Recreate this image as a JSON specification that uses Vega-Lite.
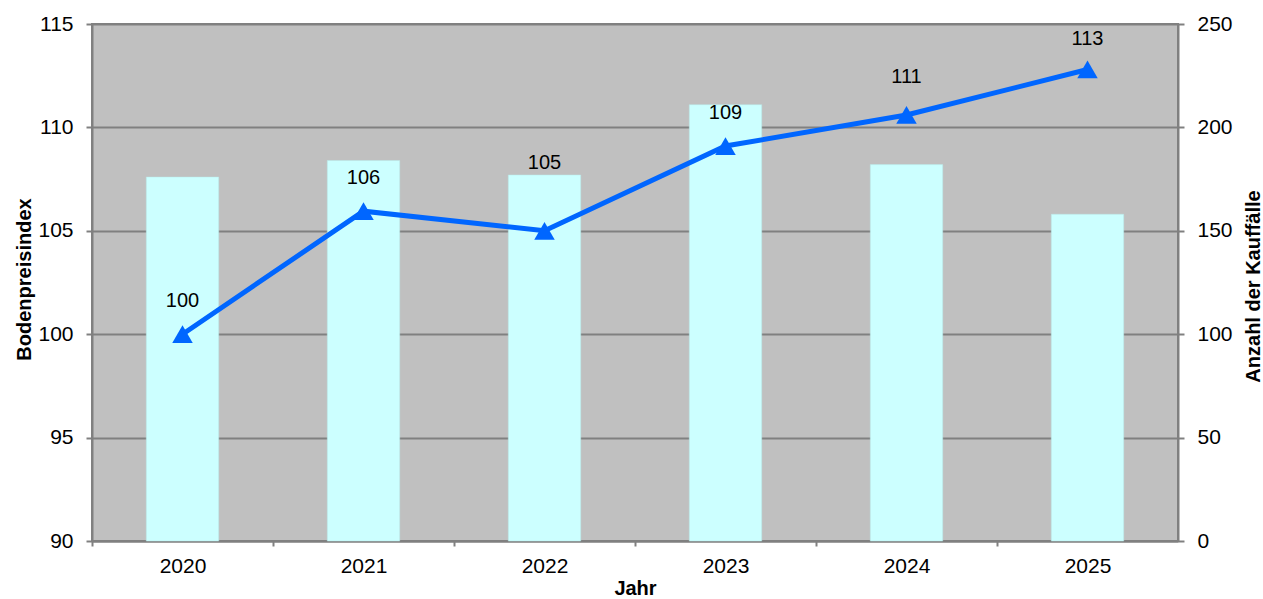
{
  "$schema": "https://vega.github.io/schema/vega-lite/v6.json",
  "width": 1086,
  "height": 517,
  "autosize": {"type": "none"},
  "padding": {"left": 92, "top": 24, "right": 85, "bottom": 58},
  "background": "white",
  "config": {
    "font": "Liberation Sans",
    "view": {"fill": "#C0C0C0", "stroke": "#808080", "strokeWidth": 2},
    "axis": {
      "labelFont": "Liberation Sans",
      "labelFontSize": 21,
      "labelColor": "black",
      "titleFont": "Liberation Sans",
      "titleFontSize": 20,
      "titleFontWeight": "bold",
      "titleColor": "black",
      "domainColor": "#808080",
      "domainWidth": 2,
      "tickColor": "#808080",
      "tickWidth": 2,
      "gridColor": "#808080",
      "gridWidth": 2
    }
  },
  "data": {
    "values": [
      {"Jahr": "2020", "Index": 100.0, "Kauffaelle": 176},
      {"Jahr": "2021", "Index": 105.95, "Kauffaelle": 184},
      {"Jahr": "2022", "Index": 105.0, "Kauffaelle": 177},
      {"Jahr": "2023", "Index": 109.1, "Kauffaelle": 211},
      {"Jahr": "2024", "Index": 110.6, "Kauffaelle": 182},
      {"Jahr": "2025", "Index": 112.8, "Kauffaelle": 158}
    ]
  },
  "encoding": {
    "x": {
      "field": "Jahr",
      "type": "ordinal",
      "scale": {"paddingInner": 0.6, "paddingOuter": 0.3},
      "axis": {
        "title": "Jahr",
        "labelAngle": 0,
        "tickSize": 5,
        "tickOffset": -90.5,
        "labelOffset": 90.5,
        "labelBaseline": "alphabetic",
        "labelPadding": 26,
        "titleX": 543,
        "titleY": 53,
        "titleBaseline": "alphabetic",
        "titleAlign": "center",
        "grid": false
      }
    }
  },
  "layer": [
    {
      "mark": {"type": "bar", "color": "#CCFFFF", "stroke": "#B8E8E8", "strokeWidth": 0.5},
      "encoding": {
        "y": {
          "field": "Kauffaelle",
          "type": "quantitative",
          "scale": {"domain": [0, 250], "nice": false},
          "axis": {
            "orient": "right",
            "title": "Anzahl der Kauffälle",
            "values": [0, 50, 100, 150, 200, 250],
            "grid": false,
            "tickSize": 6,
            "labelPadding": 13,
            "titleAngle": -90,
            "titleX": 81.5,
            "titleY": 262,
            "titleBaseline": "alphabetic",
            "titleAlign": "center"
          }
        }
      }
    },
    {
      "layer": [
        {
          "mark": {"type": "line", "color": "#0066FF", "strokeWidth": 5},
          "encoding": {
            "y": {
              "field": "Index",
              "type": "quantitative",
              "scale": {"domain": [90, 115], "nice": false, "zero": false},
              "axis": {
                "orient": "left",
                "title": "Bodenpreisindex",
                "values": [90, 95, 100, 105, 110, 115],
                "grid": true,
                "tickSize": 6,
                "labelPadding": 13,
                "titleAngle": -90,
                "titleX": -62,
                "titleY": 255,
                "titleBaseline": "alphabetic",
                "titleAlign": "center"
              }
            }
          }
        },
        {
          "mark": {"type": "point", "shape": "triangle-up", "filled": true, "color": "#0066FF", "opacity": 1, "size": 420},
          "encoding": {
            "y": {"field": "Index", "type": "quantitative"}
          }
        },
        {
          "transform": [{"filter": "datum.Jahr == '2020' || datum.Jahr == '2021' || datum.Jahr == '2023'"}],
          "mark": {"type": "text", "fontSize": 20, "color": "black", "dy": -33, "baseline": "middle", "align": "center", "font": "Liberation Sans"},
          "encoding": {
            "y": {"field": "Index", "type": "quantitative"},
            "text": {"field": "Index", "type": "quantitative", "format": ".0f"}
          }
        },
        {
          "transform": [{"filter": "datum.Jahr == '2022'"}],
          "mark": {"type": "text", "fontSize": 20, "color": "black", "dy": -68, "baseline": "middle", "align": "center", "font": "Liberation Sans"},
          "encoding": {
            "y": {"field": "Index", "type": "quantitative"},
            "text": {"field": "Index", "type": "quantitative", "format": ".0f"}
          }
        },
        {
          "transform": [{"filter": "datum.Jahr == '2024'"}],
          "mark": {"type": "text", "fontSize": 20, "color": "black", "dy": -38, "baseline": "middle", "align": "center", "font": "Liberation Sans"},
          "encoding": {
            "y": {"field": "Index", "type": "quantitative"},
            "text": {"field": "Index", "type": "quantitative", "format": ".0f"}
          }
        },
        {
          "transform": [{"filter": "datum.Jahr == '2025'"}],
          "mark": {"type": "text", "fontSize": 20, "color": "black", "dy": -30, "baseline": "middle", "align": "center", "font": "Liberation Sans"},
          "encoding": {
            "y": {"field": "Index", "type": "quantitative"},
            "text": {"field": "Index", "type": "quantitative", "format": ".0f"}
          }
        }
      ]
    }
  ],
  "resolve": {"scale": {"y": "independent"}}
}
